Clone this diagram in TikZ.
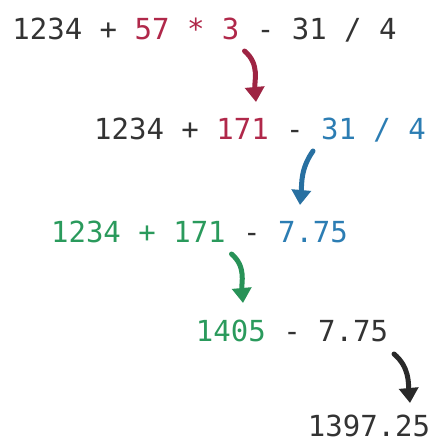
\documentclass[tikz,border=0pt]{standalone}
\usepackage{fontspec}
\setmonofont{DejaVu Sans Mono}
\usetikzlibrary{arrows.meta}
\definecolor{darktxt}{HTML}{333333}
\definecolor{redop}{HTML}{B0284A}
\definecolor{blueop}{HTML}{2C7DB3}
\definecolor{greenop}{HTML}{2A9A5C}

\begin{document}
\begin{tikzpicture}[x=1pt,y=1pt,
    every node/.style={font=\ttfamily\fontsize{29}{32}\selectfont, text=darktxt, inner sep=0pt, anchor=base, text height=21pt, text depth=0pt},
    evalarrow/.style={-{Triangle[length=15pt,width=19pt]}, line width=5pt, line cap=round}]
                \useasboundingbox (0,0) rectangle (433,-442);

                \node (e1) at (204.5,-39) {1234 + \textcolor{redop}{57 * 3} - 31 / 4};
                \node (e2) at (260,-139) {1234 + \textcolor{redop}{171} - \textcolor{blueop}{31 / 4}};
                \node (e3) at (199.5,-242) {\textcolor{greenop}{1234 + 171} - \textcolor{blueop}{7.75}};
                \node (e4) at (292,-341) {\textcolor{greenop}{1405} - 7.75};
                \node (e5) at (369,-436) {1397.25};

                \draw[evalarrow, redop!90!black] ([shift={(40,-12)}]e1.base) to[out=-40,in=95] ([shift={(-4,37)}]e2.base);
                \draw[evalarrow, blueop!90!black] ([shift={(53,-12)}]e2.base) to[out=-125,in=85] ([shift={(100.5,37)}]e3.base);
                \draw[evalarrow, greenop!95!black] ([shift={(32,-12)}]e3.base) to[out=-40,in=95] ([shift={(-49,38)}]e4.base);
                \draw[evalarrow, darktxt!80!black] ([shift={(102,-13)}]e4.base) to[out=-40,in=95] ([shift={(41,33)}]e5.base);
            \end{tikzpicture}
\end{document}
